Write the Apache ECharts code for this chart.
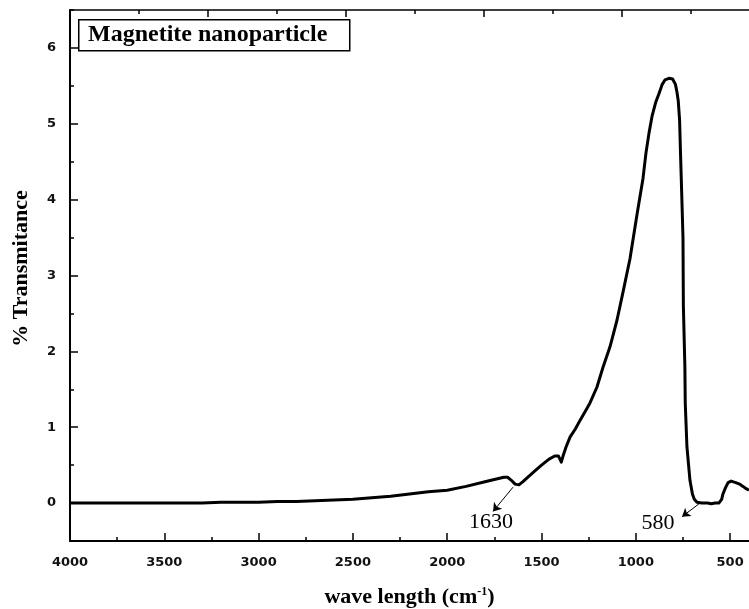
<!DOCTYPE html>
<html>
<head>
<meta charset="utf-8">
<script src="https://cdn.jsdelivr.net/npm/echarts@6/dist/echarts.min.js"></script>
<style>
  html, body { margin: 0; padding: 0; background: #fff; }
  #chart { width: 749px; height: 609px; }
</style>
</head>
<body>
<div id="chart"></div>
<script>
// FTIR spectrum of magnetite nanoparticles: [wavenumber (cm-1), % transmittance]
const spectrum = [
  [4000, 0.00], [3900, 0.00], [3800, 0.00], [3700, 0.00], [3600, 0.00],
  [3500, 0.00], [3400, 0.00], [3300, 0.00], [3200, 0.01], [3100, 0.01],
  [3000, 0.01], [2900, 0.02], [2800, 0.02], [2700, 0.03], [2600, 0.04],
  [2500, 0.05], [2400, 0.07], [2300, 0.09], [2200, 0.12], [2100, 0.15],
  [2000, 0.17], [1900, 0.22], [1800, 0.28], [1750, 0.31], [1700, 0.34],
  [1680, 0.34], [1660, 0.30], [1640, 0.25], [1620, 0.24], [1600, 0.28],
  [1550, 0.39], [1500, 0.50], [1460, 0.58], [1430, 0.62], [1410, 0.62],
  [1395, 0.54], [1386, 0.62], [1370, 0.74], [1349, 0.87], [1320, 0.98],
  [1296, 1.09], [1270, 1.20], [1243, 1.32], [1206, 1.53], [1174, 1.79],
  [1137, 2.06], [1100, 2.41], [1068, 2.78], [1031, 3.22], [994, 3.80],
  [962, 4.28], [946, 4.62], [930, 4.88], [914, 5.10], [895, 5.28],
  [877, 5.40], [860, 5.52], [845, 5.58], [825, 5.60], [805, 5.59],
  [790, 5.52], [782, 5.42], [775, 5.30], [768, 5.05], [763, 4.60],
  [757, 4.10], [750, 3.50], [748, 2.60], [740, 1.80], [738, 1.32],
  [729, 0.74], [713, 0.30], [700, 0.12], [690, 0.05], [676, 0.01],
  [650, 0.00], [620, 0.00], [600, -0.01], [580, 0.00], [560, 0.00],
  [545, 0.05], [538, 0.12], [525, 0.20], [511, 0.27], [495, 0.29],
  [485, 0.29], [470, 0.27], [450, 0.25], [432, 0.22], [415, 0.19],
  [400, 0.17]
];

// Tick values
const xMajorTicks = [4000, 3500, 3000, 2500, 2000, 1500, 1000, 500];
const xMinorTicks = [3750, 3250, 2750, 2250, 1750, 1250, 750];
const yMajorTicks = [0, 1, 2, 3, 4, 5, 6];
const yMinorTicks = [-0.5, 0.5, 1.5, 2.5, 3.5, 4.5, 5.5, 6.5];
const topMajorTicks = [0, 2, 4, 6, 8];
const topMinorTicks = [1, 3, 5, 7, 9];

// Annotated bands: label text, label position, arrow tail (on curve), arrow head
const bandLabels = ['1630', '580'];
const bandLabelAt = [[1768, -0.25], [882, -0.26]];
const bandArrowFrom = [[1651, 0.21], [660, 0.00]];
const bandArrowTo = [[1757, -0.11], [755, -0.18]];

const chart = echarts.init(document.getElementById('chart'), null, { renderer: 'canvas' });

const tickFont = { fontFamily: 'DejaVu Sans', fontWeight: 'bold', fontSize: 13, color: '#111' };
const titleFont = { fontFamily: 'Liberation Serif', fontWeight: 'bold', fontSize: 22, color: '#000' };
const plain = v => String(v);

chart.setOption({
  animation: false,
  backgroundColor: '#fff',
  grid: { left: 70, right: 0, top: 10, bottom: 68, containLabel: false, outerBoundsMode: 'none' },
  xAxis: [
    {
      type: 'value', position: 'bottom', inverse: true, min: 400, max: 4000,
      axisLine: { show: true, onZero: false, lineStyle: { color: '#000', width: 2 } },
      axisTick: { show: true, inside: true, length: 8, customValues: xMajorTicks, lineStyle: { color: '#000', width: 1.5 } },
      axisLabel: { show: true, customValues: xMajorTicks, margin: 15, formatter: plain, ...tickFont },
      splitLine: { show: false },
      name: '{t|wave length (cm}{s|-1}{t|)}',
      nameLocation: 'middle', nameGap: 45,
      nameTextStyle: {
        rich: {
          t: { ...titleFont },
          s: { ...titleFont, fontSize: 12, verticalAlign: 'top', padding: [0, 0, 10, 0] }
        }
      }
    },
    {
      type: 'value', position: 'bottom', inverse: true, min: 400, max: 4000,
      axisLine: { show: false, onZero: false },
      axisTick: { show: true, inside: true, length: 4, customValues: xMinorTicks, lineStyle: { color: '#000', width: 1.5 } },
      axisLabel: { show: false },
      splitLine: { show: false }
    },
    {
      type: 'value', position: 'top', min: 0, max: 9.84,
      axisLine: { show: true, onZero: false, lineStyle: { color: '#000', width: 1.5 } },
      axisTick: { show: true, inside: true, length: 7, customValues: topMajorTicks, lineStyle: { color: '#000', width: 1.5 } },
      axisLabel: { show: false },
      splitLine: { show: false }
    },
    {
      type: 'value', position: 'top', min: 0, max: 9.84,
      axisLine: { show: false, onZero: false },
      axisTick: { show: true, inside: true, length: 4, customValues: topMinorTicks, lineStyle: { color: '#000', width: 1.5 } },
      axisLabel: { show: false },
      splitLine: { show: false }
    }
  ],
  yAxis: [
    {
      type: 'value', position: 'left', min: -0.5, max: 6.5,
      axisLine: { show: true, onZero: false, lineStyle: { color: '#000', width: 2 } },
      axisTick: { show: true, inside: true, length: 8, customValues: yMajorTicks, lineStyle: { color: '#000', width: 1.5 } },
      axisLabel: { show: true, customValues: yMajorTicks, margin: 14, formatter: plain, ...tickFont },
      splitLine: { show: false },
      name: '% Transmitance',
      nameLocation: 'middle', nameGap: 38,
      nameTextStyle: { ...titleFont, padding: [0, 0, 0, 14] }
    },
    {
      type: 'value', position: 'left', min: -0.5, max: 6.5,
      axisLine: { show: false, onZero: false },
      axisTick: { show: true, inside: true, length: 4, customValues: yMinorTicks, lineStyle: { color: '#000', width: 1.5 } },
      axisLabel: { show: false },
      splitLine: { show: false }
    }
  ],
  series: [
    {
      type: 'line',
      xAxisIndex: 0, yAxisIndex: 0,
      data: spectrum,
      showSymbol: false,
      smooth: false,
      lineStyle: { color: '#000', width: 3, join: 'round' },
      markLine: {
        silent: true,
        symbol: ['none', 'arrow'],
        symbolSize: 8,
        label: { show: false },
        lineStyle: { color: '#000', width: 1, type: 'solid' },
        data: bandArrowFrom.map((p, i) => [{ coord: p }, { coord: bandArrowTo[i] }])
      },
      markPoint: {
        silent: true,
        symbol: 'circle', symbolSize: 0,
        label: {
          show: true, position: 'inside',
          fontFamily: 'Liberation Serif', fontSize: 22, color: '#000',
          formatter: p => p.name
        },
        data: bandLabels.map((t, i) => ({ name: t, coord: bandLabelAt[i] }))
      }
    }
  ],
  graphic: [
    {
      type: 'rect', left: 78, top: 19,
      shape: { width: 271, height: 31 },
      style: { fill: '#fff', stroke: '#000', lineWidth: 1.5 },
      z: 10
    },
    {
      type: 'text', left: 88, top: 23,
      style: { text: 'Magnetite nanoparticle', fontFamily: 'Liberation Serif', fontWeight: 'bold', fontSize: 24, fill: '#000' },
      z: 11
    }
  ]
});
</script>
</body>
</html>
